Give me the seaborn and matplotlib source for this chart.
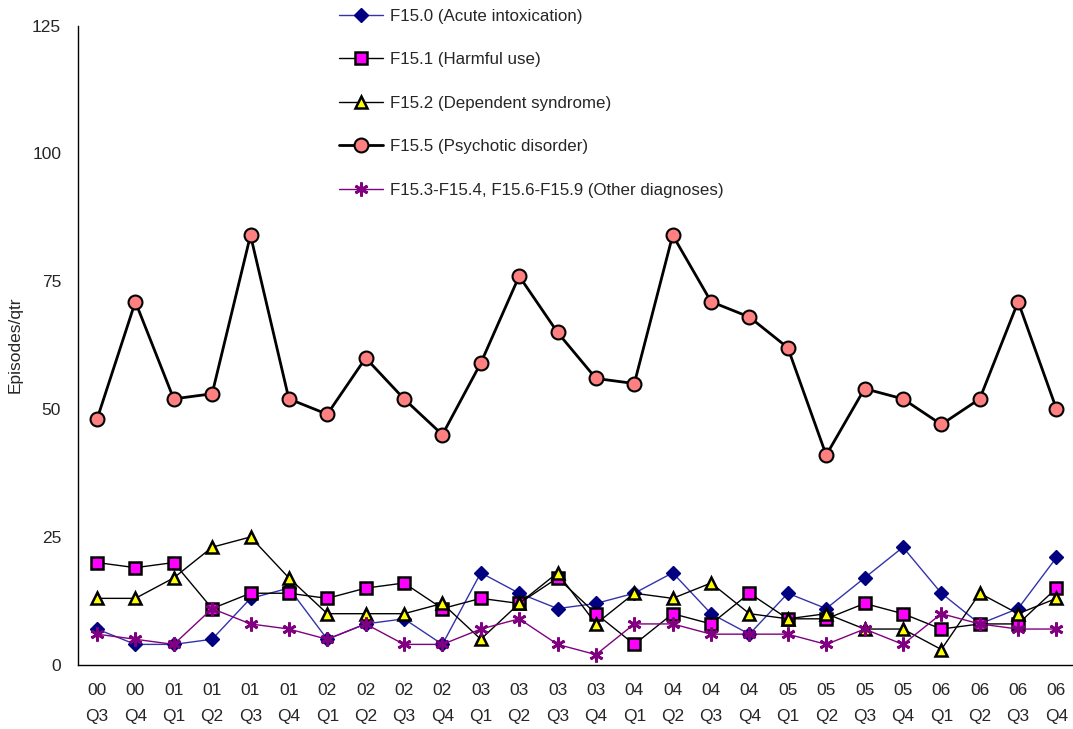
import matplotlib
matplotlib.use("Agg")
import matplotlib.pyplot as plt
import seaborn as sns
import numpy as np

# quarters shown on the x axis
quarters = ["00\nQ3", "00\nQ4", "01\nQ1", "01\nQ2", "01\nQ3", "01\nQ4", "02\nQ1", "02\nQ2",
            "02\nQ3", "02\nQ4", "03\nQ1", "03\nQ2", "03\nQ3", "03\nQ4", "04\nQ1", "04\nQ2",
            "04\nQ3", "04\nQ4", "05\nQ1", "05\nQ2", "05\nQ3", "05\nQ4", "06\nQ1", "06\nQ2",
            "06\nQ3", "06\nQ4"]

acute = [7, 4, 4, 5, 13, 15, 5, 8, 9, 4, 18, 14, 11, 12, 14, 18, 10, 6, 14, 11, 17, 23, 14, 8, 11, 21]
harmful = [20, 19, 20, 11, 14, 14, 13, 15, 16, 11, 13, 12, 17, 10, 4, 10, 8, 14, 9, 9, 12, 10, 7, 8, 8, 15]
dependent = [13, 13, 17, 23, 25, 17, 10, 10, 10, 12, 5, 12, 18, 8, 14, 13, 16, 10, 9, 10, 7, 7, 3, 14, 10, 13]
psychotic = [48, 71, 52, 53, 84, 52, 49, 60, 52, 45, 59, 76, 65, 56, 55, 84, 71, 68, 62, 41, 54, 52, 47, 52, 71, 50]
other = [6, 5, 4, 11, 8, 7, 5, 8, 4, 4, 7, 9, 4, 2, 8, 8, 6, 6, 6, 4, 7, 4, 10, 8, 7, 7]

sns.set_style("white")
plt.rcParams['font.family'] = ['Liberation Sans', 'DejaVu Sans']

fig = plt.figure(figsize=(10.73, 7.29), dpi=100)
ax = fig.add_axes([0.0725, 0.088, 0.93, 0.877])

x = np.arange(len(quarters))

series = [
    (acute, "F15.0 (Acute intoxication)", dict(marker="D", color="#3333AA", lw=1.0, mfc="#000080", mec="#000080", ms=7.5, mew=1)),
    (harmful, "F15.1 (Harmful use)", dict(marker="s", color="black", lw=1.0, mfc="#FF00FF", mec="black", ms=8, mew=1.8)),
    (dependent, "F15.2 (Dependent syndrome)", dict(marker="^", color="black", lw=1.0, mfc="#FFFF00", mec="black", ms=8.5, mew=1.8)),
    (psychotic, "F15.5 (Psychotic disorder)", dict(marker="o", color="black", lw=2.0, mfc="#FF8080", mec="black", ms=10, mew=1.5)),
    (other, "F15.3-F15.4, F15.6-F15.9 (Other diagnoses)", dict(marker=(6, 2, 0), color="#800080", lw=1.0, mfc="#800080", mec="#800080", ms=10, mew=2)),
]

for vals, label, st in series:
    sns.lineplot(x=x, y=vals, ax=ax, label=label, color=st["color"], linewidth=st["lw"],
                 marker=st["marker"], markersize=st["ms"], markerfacecolor=st["mfc"],
                 markeredgecolor=st["mec"], markeredgewidth=st["mew"])

ax.set_xlim(-0.5, 25.5)
ax.set_ylim(0, 125)
ax.set_yticks([0, 25, 50, 75, 100, 125])
ax.set_xticks(x)
ax.set_xticklabels(quarters, fontsize=12.5, linespacing=1.9)
ax.set_xticks(np.arange(-0.5, 26, 1), minor=True)
ax.tick_params(axis="x", which="major", length=0, pad=13)
ax.tick_params(axis="x", which="minor", length=6, width=1, direction="out", color="black")
ax.tick_params(axis="y", length=6, width=1, direction="out", color="black", labelsize=12.5, pad=6)
ax.set_ylabel("Episodes/qtr", fontsize=12.5, labelpad=7)

for s in ["top", "right"]:
    ax.spines[s].set_visible(False)
for s in ["left", "bottom"]:
    ax.spines[s].set_color("black")
    ax.spines[s].set_linewidth(1)

leg = ax.legend(loc="upper left", bbox_to_anchor=(0.246, 1.05), frameon=False, fontsize=12.2,
                labelspacing=1.68, handlelength=2.6, handletextpad=0.45)

fig.savefig("out.png", dpi=100)
